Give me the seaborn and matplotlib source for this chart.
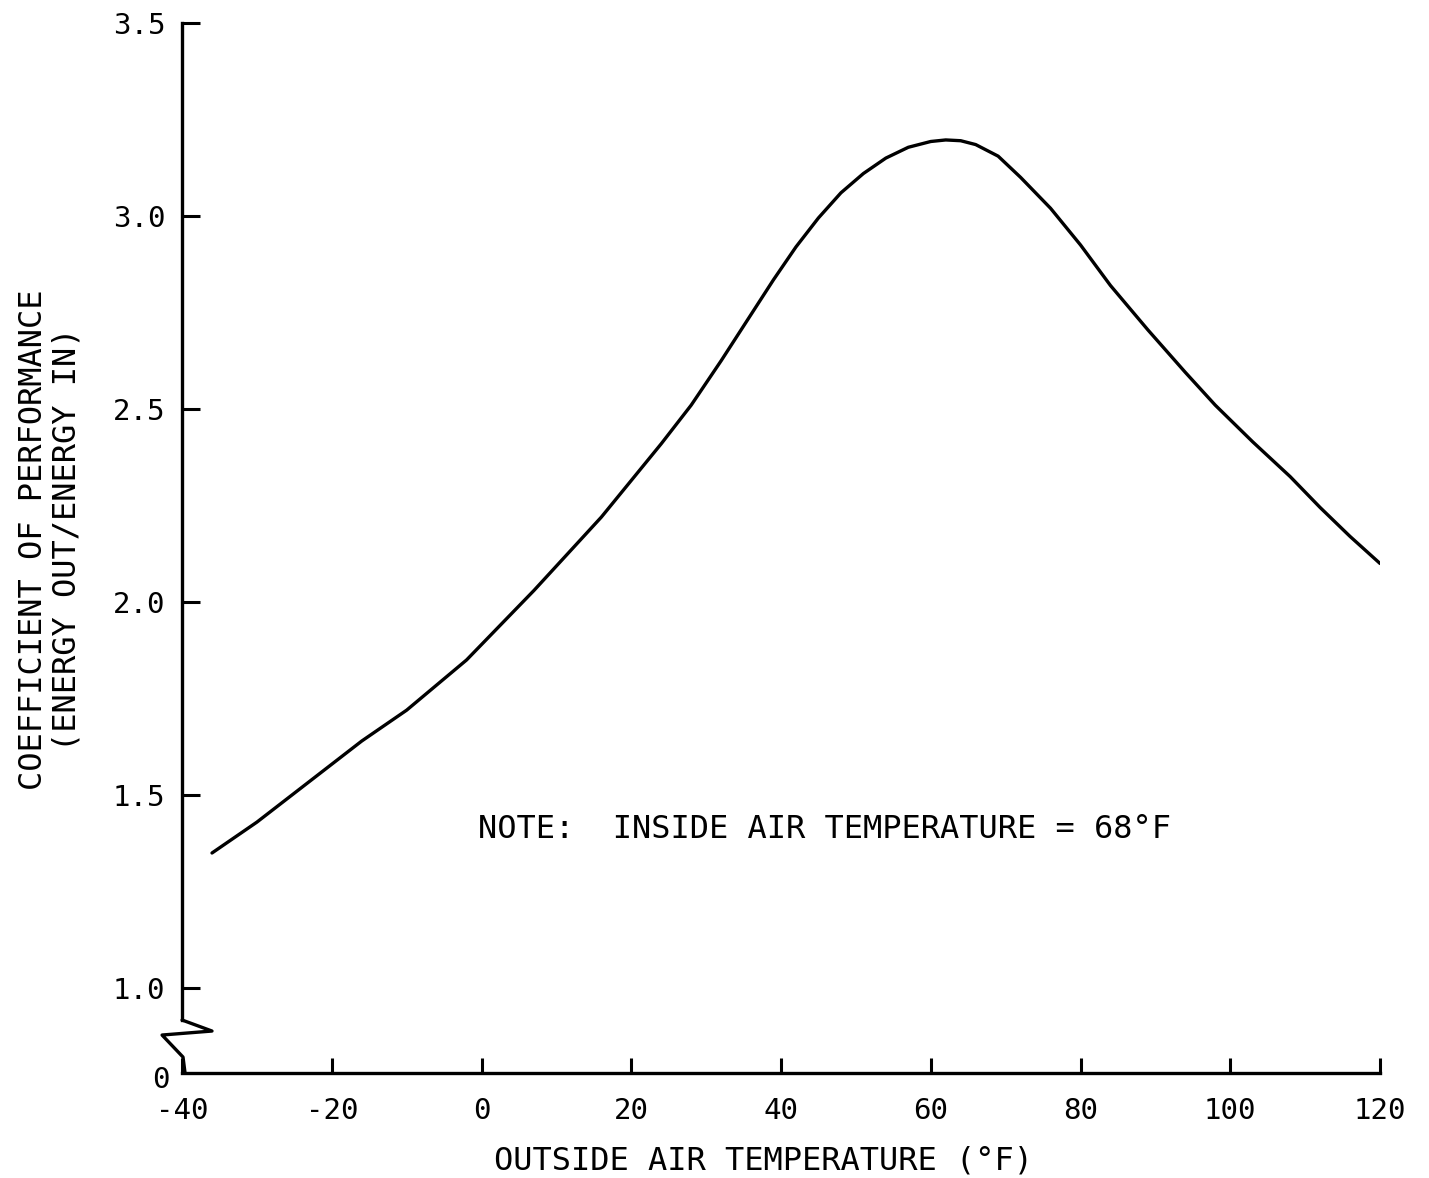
import pandas as pd
import matplotlib
matplotlib.use('Agg')
import matplotlib.pyplot as plt
import seaborn as sns

# Values
outside_temp = [-36, -30, -24, -16, -10, -2, 7, 16, 24, 28, 32, 36, 39, 42, 45,
                48, 51, 54, 57, 60, 62, 64, 66, 69, 72, 76, 80, 84, 89, 94,
                98, 103, 108, 112, 116, 120]
cop = [1.35, 1.43, 1.52, 1.64, 1.72, 1.85, 2.03, 2.22, 2.41, 2.51, 2.625, 2.745,
       2.835, 2.92, 2.995, 3.06, 3.11, 3.15, 3.178, 3.193, 3.197, 3.195, 3.185,
       3.155, 3.10, 3.02, 2.925, 2.82, 2.705, 2.595, 2.51, 2.415, 2.325, 2.245,
       2.17, 2.10]

x_ticks = [-40, -20, 0, 20, 40, 60, 80, 100, 120]
y_ticks = [1.0, 1.5, 2.0, 2.5, 3.0, 3.5]
y_ticklabels = ['1.0', '1.5', '2.0', '2.5', '3.0', '3.5']

df = pd.DataFrame({'temp': outside_temp, 'cop': cop})

sns.set_theme(style='white')
plt.rcParams['font.family'] = ['DejaVu Sans Mono', 'DejaVu Sans']

fig = plt.figure(figsize=(14.29, 11.78), dpi=100)
ax = fig.add_axes([0.1274, 0.0891, 0.8383, 0.8914])

sns.lineplot(data=df, x='temp', y='cop', color='black', linewidth=2.4,
             estimator=None, sort=False, ax=ax)

# broken axis: bottom of the axes stands for 0
y_bottom = 0.78
ax.set_xlim(-40, 120)
ax.set_ylim(y_bottom, 3.5)

ax.set_xticks(x_ticks)
ax.set_xticklabels([str(v) for v in x_ticks])
ax.set_yticks(y_ticks)
ax.set_yticklabels(y_ticklabels)
ax.tick_params(axis='x', bottom=True, direction='in', length=11, width=2.2, pad=17,
               labelsize=21, color='black', labelcolor='black')
ax.tick_params(axis='y', left=True, direction='in', length=13, width=2.2, pad=12,
               labelsize=21, color='black', labelcolor='black')

for side in ['top', 'right']:
    ax.spines[side].set_visible(False)
for side in ['left', 'bottom']:
    ax.spines[side].set_color('black')
    ax.spines[side].set_linewidth(2.4)
ax.spines['left'].set_bounds(y_bottom + 0.0505 * (3.5 - y_bottom), 3.5)

# zigzag break mark on the y axis
zx = [0, 0.025, -0.0167, 0.0008, 0.0025]
zy = [0.0505, 0.040, 0.0362, 0.0152, 0]
ax.plot(zx, zy, color='black', lw=2.4, transform=ax.transAxes, clip_on=False)
ax.text(-0.01, -0.007, '0', transform=ax.transAxes, ha='right', va='center',
        fontsize=21, color='black')

ax.set_xlabel('OUTSIDE AIR TEMPERATURE (°F)', fontsize=23, color='black')
ax.xaxis.set_label_coords(0.485, -0.069)
ax.set_ylabel('COEFFICIENT OF PERFORMANCE\n(ENERGY OUT/ENERGY IN)', fontsize=23,
              color='black', linespacing=1.1)
ax.yaxis.set_label_coords(-0.0835, 0.508)

ax.text(-0.5, 1.41, 'NOTE:  INSIDE AIR TEMPERATURE = 68°F', fontsize=23,
        ha='left', va='center', color='black')

fig.savefig('out.png', dpi=100, facecolor='white')
